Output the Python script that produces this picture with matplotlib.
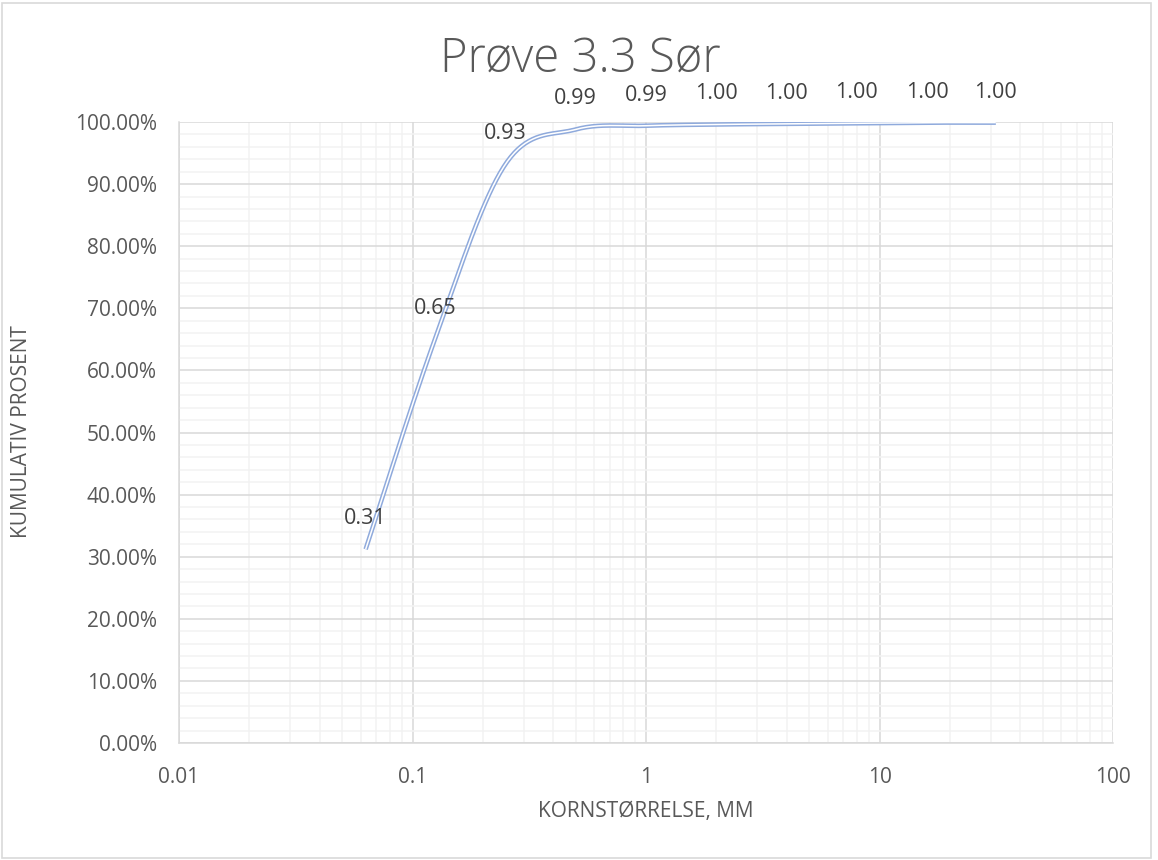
import matplotlib.pyplot as plt
import numpy as np
from matplotlib.patches import Rectangle
from matplotlib.ticker import FuncFormatter, LogLocator, MultipleLocator, FixedLocator, NullFormatter

plt.rcParams['font.family'] = ['Open Sans', 'DejaVu Sans']

# sieve sizes (mm) and cumulative fraction passing
sieve_mm = [0.063, 0.125, 0.25, 0.5, 1, 2, 4, 8, 16, 31.5]
cum_passing = [0.312, 0.651, 0.932, 0.988, 0.994, 0.996, 0.997, 0.998, 0.999, 0.999]

x_ticks = [0.01, 0.1, 1, 10, 100]
x_tick_labels = ['0.01', '0.1', '1', '10', '100']

title = 'Prøve 3.3 Sør'
x_title = 'KORNSTØRRELSE, MM'
y_title = 'KUMULATIV PROSENT'

line_col = '#8FAADC'
text_col = '#595959'


def smooth(xs, ys, n=40):
    # bezier smoothing through the points (log x), like a smoothed spreadsheet line
    P = np.column_stack([np.log10(xs), np.asarray(ys, float)])
    P = np.vstack([P[0], P, P[-1]])
    t = np.linspace(0, 1, n)[:, None]
    out = []
    for i in range(1, len(P) - 2):
        p0, p1, p2, p3 = P[i - 1], P[i], P[i + 1], P[i + 2]
        c1 = p1 + (p2 - p0) / 6
        c2 = p2 - (p3 - p1) / 6
        seg = (1 - t) ** 3 * p1 + 3 * (1 - t) ** 2 * t * c1 + 3 * (1 - t) * t ** 2 * c2 + t ** 3 * p2
        out.append(seg if i == 1 else seg[1:])
    out = np.vstack(out)
    return 10 ** out[:, 0], out[:, 1]


fig = plt.figure(figsize=(11.58, 8.60), dpi=100)
ax = fig.add_axes([179 / 1158, 1 - 743 / 860, (1113 - 179) / 1158, (743 - 122) / 860])

fig.patches.append(Rectangle((2 / 1158, 2 / 860), 1149 / 1158, 855 / 860, transform=fig.transFigure,
                             fill=False, edgecolor='#D9D9D9', linewidth=1.2))

sx, sy = smooth(sieve_mm, cum_passing)
# double line: coloured outer stroke with a white core
ax.plot(sx, sy, color=line_col, lw=3.3, solid_capstyle='butt', zorder=3)
ax.plot(sx, sy, color='white', lw=1.1, solid_capstyle='butt', zorder=4)

for xv, yv in zip(sieve_mm, cum_passing):
    ax.annotate(f'{yv:.2f}', (xv, yv), xytext=(0, 22), textcoords='offset points',
                ha='center', va='center', fontsize=15.5, color='#404040', zorder=5,
                annotation_clip=False)

ax.set_xscale('log')
ax.set_xlim(0.01, 100)
ax.set_ylim(0, 1)
ax.xaxis.set_major_locator(FixedLocator(x_ticks))
ax.xaxis.set_major_formatter(FuncFormatter(lambda v, p: x_tick_labels[x_ticks.index(v)] if v in x_ticks else ''))
ax.xaxis.set_minor_locator(LogLocator(base=10, subs=np.arange(2, 10)))
ax.xaxis.set_minor_formatter(NullFormatter())
ax.yaxis.set_major_locator(MultipleLocator(0.1))
ax.yaxis.set_minor_locator(MultipleLocator(0.02))
ax.yaxis.set_major_formatter(FuncFormatter(lambda v, p: f'{v * 100:.2f}%'))

ax.grid(which='major', color='#D9D9D9', lw=1.1)
ax.grid(which='minor', color='#F2F2F2', lw=1.1)
ax.set_axisbelow(True)
ax.tick_params(which='both', length=0, labelsize=15, labelcolor=text_col)
ax.tick_params(axis='y', pad=16)
ax.tick_params(axis='x', pad=17)
for s in ['top', 'right']:
    ax.spines[s].set_visible(False)
for s in ['left', 'bottom']:
    ax.spines[s].set_color('#D9D9D9')
    ax.spines[s].set_linewidth(1.1)

fig.text(580 / 1158, 1 - 59 / 860, title, ha='center', va='center', fontsize=34,
         color=text_col, fontweight='light')
fig.text(646 / 1158, 1 - 812 / 860, x_title, ha='center', va='center', fontsize=15, color=text_col)
fig.text(22 / 1158, 1 - 432 / 860, y_title, ha='center', va='center', fontsize=15,
         color=text_col, rotation=90)

fig.savefig('out.png', dpi=100)
